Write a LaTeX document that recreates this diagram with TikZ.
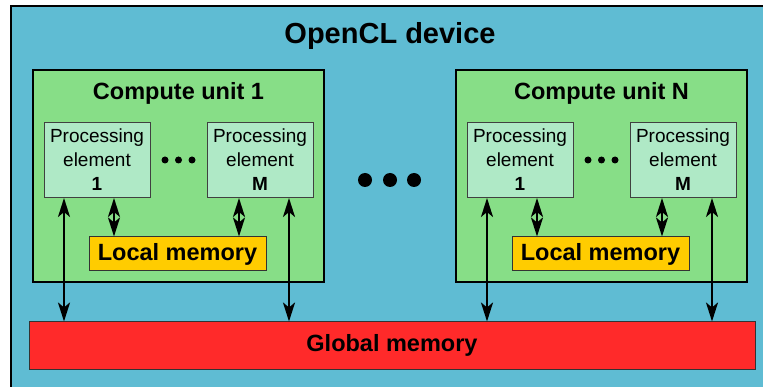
\documentclass[tikz,border=0pt]{standalone}
\usepackage{fontspec}
\setmainfont{Liberation Sans}
\usetikzlibrary{arrows.meta,positioning,calc}
\definecolor{devblue}{HTML}{5FBCD3}
\definecolor{cugreen}{HTML}{87DE87}
\definecolor{pelight}{HTML}{AFE9C6}
\definecolor{lmorange}{HTML}{FFCC00}
\definecolor{gmred}{HTML}{FF2A2A}

\begin{document}
\begin{tikzpicture}[x=1pt, y=-1pt,
  unit/.style={
    rectangle, draw=black, fill=cugreen, line width=1.5pt,
    minimum width=291pt, minimum height=212pt
  },
  pelem/.style={
    rectangle, draw=black!75, fill=pelight, line width=1pt, inner sep=0pt,
    minimum width=106pt, minimum height=75pt, align=center,
    font=\fontsize{19}{24}\selectfont
  },
  mem/.style={
    rectangle, draw=black!80, line width=1pt, inner sep=0pt,
    font=\fontsize{23.5}{28}\selectfont\bfseries
  },
  ttl/.style={font=\fontsize{23.5}{28}\selectfont\bfseries},
  arr/.style={{Stealth[length=19pt,width=12pt,inset=5pt]}-{Stealth[length=19pt,width=12pt,inset=5pt]}, line width=2.4pt}
]
  \clip (0,0) rectangle (763,387);
  \fill[white] (0,0) rectangle (763,387);
  \draw[fill=devblue, line width=2pt] (11,6) rectangle (800,420);
  \node[font=\fontsize{29}{34}\selectfont\bfseries] (dev) at (390,36) {OpenCL device};

  \node[mem, fill=gmred, minimum width=726pt, minimum height=47pt] (gm) at (392,345.5) {Global memory};

  \foreach \u/\x/\n in {a/178.5/1, b/601.5/N} {
    \node[unit] (cu\u) at (\x,176) {};
    \node[ttl] (t\u) at (\x,93) {Compute unit \n};
    \node[pelem] (pe\u1) at (\x-81.5,160) {Processing\\element\\\textbf{1}};
    \node[pelem] (pe\u2) at (\x+81.5,160) {Processing\\element\\\textbf{M}};
    \node[mem, fill=lmorange, minimum width=177pt, minimum height=34pt] (lm\u) at (\x-1,254) {Local memory};

    \foreach \d in {-13.5,0,13.5}
      \fill (\x+\d,160) circle (3.5);

    \draw[arr] ([xshift=-33pt]pe\u1.south) -- ([xshift=-33pt]pe\u1.south |- gm.north);
    \draw[arr] ([xshift=29pt]pe\u2.south) -- ([xshift=29pt]pe\u2.south |- gm.north);
    \draw[arr] ([xshift=17pt]pe\u1.south) -- ([xshift=17pt]pe\u1.south |- lm\u.north);
    \draw[arr] ([xshift=-21pt]pe\u2.south) -- ([xshift=-21pt]pe\u2.south |- lm\u.north);
  }

  \foreach \d in {365,390,414}
    \fill (\d,180) circle (7);
\end{tikzpicture}
\end{document}
